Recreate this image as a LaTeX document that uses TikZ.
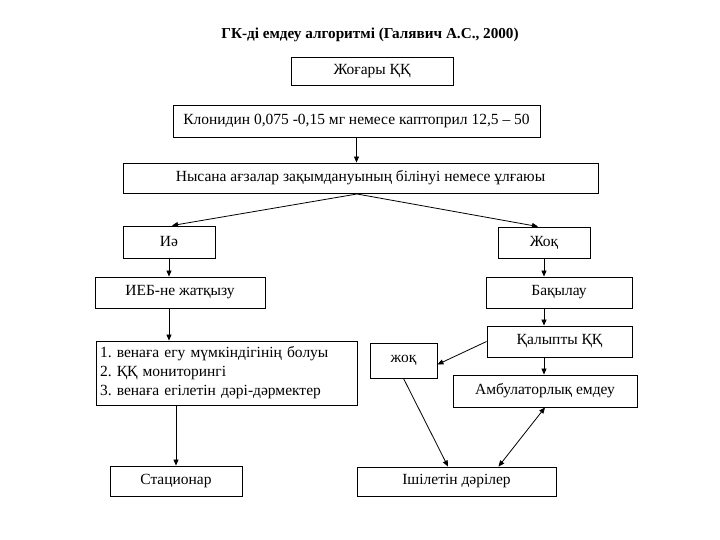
\documentclass[tikz,border=0pt]{standalone}
\usepackage{fontspec}
\setmainfont{Liberation Serif}
\usetikzlibrary{arrows.meta,calc}
\frenchspacing
\begin{document}
\begin{tikzpicture}[x=1pt,y=-1pt,
  box/.style={draw=black,line width=0.9pt,inner sep=0pt,minimum width=#1,font=\fontsize{15.5}{18}\selectfont},
  arr/.style={line width=0.8pt,-{Triangle[length=6pt,width=5pt]}},
  darr/.style={line width=0.8pt,{Triangle[length=6pt,width=5pt]}-{Triangle[length=6pt,width=5pt]}}]
\useasboundingbox (0,0) rectangle (720,540);
\node[font=\bfseries\fontsize{15.2}{18}\selectfont] (title) at (370,35) {ГК-ді емдеу алгоритмі (Галявич А.С., 2000)};
\node[box=162pt,minimum height=28pt] (b1) at (372,71) {Жоғары ҚҚ};
\node[box=367pt,minimum height=32pt] (b2) at (356.5,121) {Клонидин 0,075 -0,15 мг немесе каптоприл 12,5 -- 50};
\node[box=475pt,minimum height=30pt] (b3) at (360.5,178) {Нысана ағзалар зақымдануының білінуі немесе ұлғаюы};
\node[box=92pt,minimum height=32pt] (yes) at (169,242) {Иә};
\node[box=92pt,minimum height=31pt] (no) at (544,242.5) {Жоқ};
\node[box=170pt,minimum height=31pt] (ieb) at (180,292.5) {ИЕБ-не жатқызу};
\node[box=146pt,minimum height=31pt] (bak) at (559,292.5) {Бақылау};
\node[box=261pt,minimum height=64pt,text width=253pt,align=left,font=\fontsize{15.5}{19}\selectfont] (list) at (226.5,373)
  {1. венаға егу мүмкіндігінің болуы\\2. ҚҚ мониторингі\\3. венаға егілетін дәрі-дәрмектер};
\node[box=145pt,minimum height=31pt] (kal) at (559.5,341.5) {Қалыпты ҚҚ};
\node[box=67pt,minimum height=35pt] (zhoq) at (403.5,360.5) {жоқ};
\node[box=184pt,minimum height=32pt] (amb) at (545,391) {Амбулаторлық емдеу};
\node[box=132pt,minimum height=30pt] (stac) at (176,481) {Стационар};
\node[box=199pt,minimum height=29pt] (ish) at (456.5,481.5) {Ішілетін дәрілер};

\coordinate (peak) at (357,194);
\draw[arr] (b2.south) -- (b2.south |- b3.north);
\draw[arr] (peak) -- ([xshift=3pt]yes.north);
\draw[arr] (peak) -- ([xshift=-6pt]no.north);
\draw[arr] (yes.south) -- (yes.south |- ieb.north);
\draw[arr] (no.south) -- (no.south |- bak.north);
\draw[arr] (ieb.south -| yes.south) -- (list.north -| yes.south);
\draw[arr] (bak.south -| no.south) -- (kal.north -| no.south);
\draw[arr] (kal.south -| no.south) -- (amb.north -| no.south);
\draw[arr] (kal.west) -- ([yshift=-4pt]zhoq.east);
\draw[arr] (list.south -| stac.north) -- (stac.north);
\draw[arr] (zhoq.south) -- ([xshift=-8.5pt]ish.north);
\draw[darr] ([xshift=42pt]ish.north) -- (amb.south);
\end{tikzpicture}
\end{document}
